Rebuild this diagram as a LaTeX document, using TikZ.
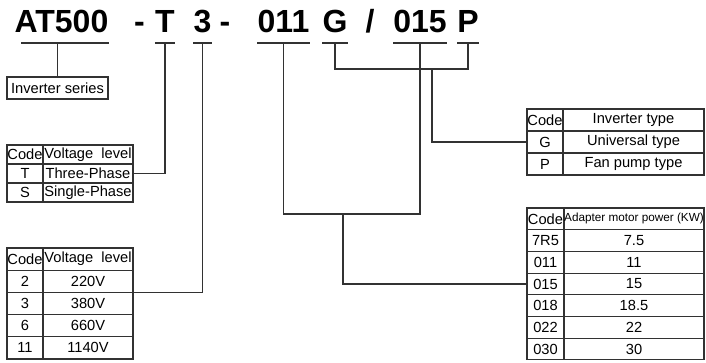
\documentclass[tikz,border=0pt]{standalone}
\usepackage{fontspec}
\setmainfont{Liberation Sans}
\definecolor{linegray}{RGB}{50, 50, 50}

\tikzset{
  modelcode/.style = {
    font       = \fontsize{24}{24}\selectfont\bfseries,
    inner sep  = 0pt,
    anchor     = base
  },
  cell/.style = {
    draw       = linegray,
    line width = 0.8pt,
    inner sep  = 0pt,
    outer sep  = 0pt,
    anchor     = north west,
    font       = \fontsize{11}{12}\selectfont
  },
  link/.style = {
    draw       = linegray,
    line width = 0.9pt
  }
}

\begin{document}
\begin{tikzpicture}[x=0.75pt, y=-0.75pt]
  \useasboundingbox (0,0) rectangle (706,363);

  % model code
  \node[modelcode] (at)    at (61.5,33) {AT500};
  \node[modelcode] (dash1) at (139.5,33) {-};
  \node[modelcode] (tt)    at (165,33) {T};
  \node[modelcode] (three) at (202.5,33) {3};
  \node[modelcode] (dash2) at (225,33) {-};
  \node[modelcode] (pw1)   at (283.5,33) {011};
  \node[modelcode] (gg)    at (335,33) {G};
  \node[modelcode] (slash) at (370,33) {/};
  \node[modelcode] (pw2)   at (420,33) {015};
  \node[modelcode] (pp)    at (468,33) {P};

  % underlines
  \foreach \n in {tt, three, pw1, gg, pw2, pp}
    \draw[link] (\n.west |- 0,43) -- (\n.east |- 0,43);
  \draw[link] (21,43) -- (at.east |- 0,43);

  % inverter series
  \node[cell, minimum width=75.75pt, minimum height=16.5pt] (series) at (7,77) {Inverter series};

  % voltage level (phase)
  \node[cell, minimum width=27pt, minimum height=14.25pt] (ph0c) at (7,145) {Code};
  \node[cell, minimum width=67.5pt, minimum height=14.25pt] (ph0v) at (43,145) {Voltage~ level};
  \foreach \c/\v [count=\i] in {T/Three-Phase, S/Single-Phase} {
    \node[cell, minimum width=27pt, minimum height=14.25pt] (ph\i c) at (7,{145+\i*19}) {\c};
    \node[cell, minimum width=67.5pt, minimum height=14.25pt] (ph\i v) at (43,{145+\i*19}) {\v};
  }

  % voltage level (volts)
  \node[cell, minimum width=27pt, minimum height=16.65pt] (vl0c) at (7,248) {Code};
  \node[cell, minimum width=67.5pt, minimum height=16.65pt] (vl0v) at (43,248) {Voltage~ level};
  \foreach \c/\v [count=\i] in {2/220V, 3/380V, 6/660V, 11/1140V} {
    \node[cell, minimum width=27pt, minimum height=16.65pt] (vl\i c) at (7,{248+\i*22.2}) {\c};
    \node[cell, minimum width=67.5pt, minimum height=16.65pt] (vl\i v) at (43,{248+\i*22.2}) {\v};
  }

  % inverter type
  \node[cell, minimum width=27pt, minimum height=16.5pt] (ty0c) at (527,109) {Code};
  \node[cell, minimum width=105.75pt, minimum height=16.5pt] (ty0v) at (563,109) {Inverter type};
  \foreach \c/\v [count=\i] in {G/Universal type, P/Fan pump type} {
    \node[cell, minimum width=27pt, minimum height=16.5pt] (ty\i c) at (527,{109+\i*22}) {\c};
    \node[cell, minimum width=105.75pt, minimum height=16.5pt] (ty\i v) at (563,{109+\i*22}) {\v};
  }

  % motor power
  \node[cell, minimum width=27.75pt, minimum height=16.3pt] (mp0c) at (527,208) {Code};
  \node[cell, minimum width=105pt, minimum height=16.3pt,
        font=\fontsize{8.8}{10}\selectfont] (mp0v) at (564,208) {Adapter motor power (KW)};
  \foreach \c/\v [count=\i] in {7R5/7.5, 011/11, 015/15, 018/18.5, 022/22, 030/30} {
    \node[cell, minimum width=27.75pt, minimum height=16.3pt] (mp\i c) at (527,{208+\i*21.7}) {\c};
    \node[cell, minimum width=105pt, minimum height=16.3pt] (mp\i v) at (564,{208+\i*21.7}) {\v};
  }

  % connectors
  \draw[link] (series.north) -- (series.north |- 0,43);
  \draw[link] (tt.south |- 0,43) |- (ph1v.east);
  \draw[link] (three.south |- 0,43) |- (vl1v.south east);
  \draw[link] (pw1.south |- 0,43) -- (pw1.south |- 0,214) -- (pw2.south |- 0,214) -- (pw2.south |- 0,43);
  \coordinate (powerjoin) at (343,214);
  \draw[link] (powerjoin) |- (mp3c.west);
  \draw[link] (gg.south |- 0,43) -- (gg.south |- 0,69) -- (pp.south |- 0,69) -- (pp.south |- 0,43);
  \coordinate (typejoin) at (432,69);
  \draw[link] (typejoin) |- (ty1c.west);
\end{tikzpicture}
\end{document}
